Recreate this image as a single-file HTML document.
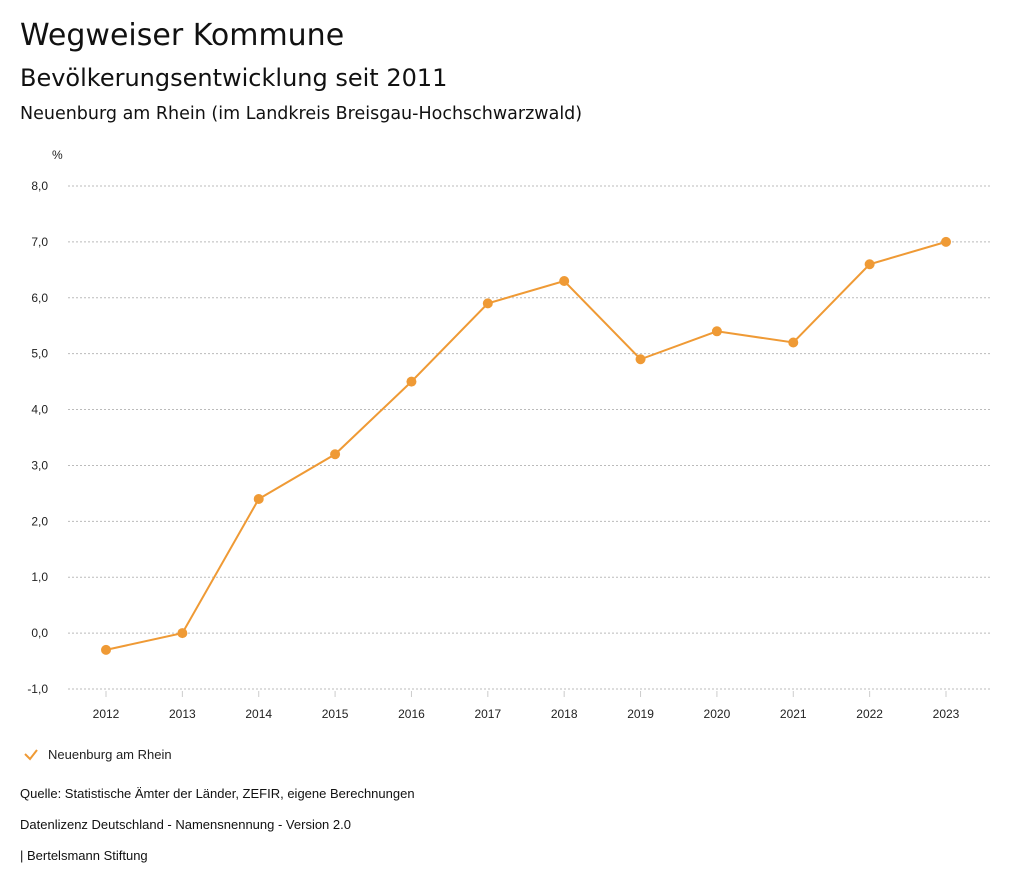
<!DOCTYPE html>
<html><head><meta charset="utf-8"><style>
body{margin:0;background:#fff;width:1024px;height:888px;overflow:hidden;font-family:"Liberation Sans",sans-serif;color:#111}
.t{position:absolute;white-space:nowrap}
.d{font-family:"DejaVu Sans",sans-serif}
</style></head><body>
<div class="t d" style="left:20px;top:18px;font-size:30px">Wegweiser Kommune</div>
<div class="t d" style="left:20px;top:64px;font-size:24px">Bevölkerungsentwicklung seit 2011</div>
<div class="t d" style="left:20px;top:104px;font-size:17.5px;font-weight:500">Neuenburg am Rhein (im Landkreis Breisgau-Hochschwarzwald)</div>
<svg id="chart" width="1024" height="888" style="position:absolute;left:0;top:0"></svg>
<div class="t" style="left:20px;top:786px;font-size:13px">Quelle: Statistische Ämter der Länder, ZEFIR, eigene Berechnungen</div>
<div class="t" style="left:20px;top:817px;font-size:13px">Datenlizenz Deutschland - Namensnennung - Version 2.0</div>
<div class="t" style="left:20px;top:848px;font-size:13px">| Bertelsmann Stiftung</div>
<script>
const years=["2012","2013","2014","2015","2016","2017","2018","2019","2020","2021","2022","2023"];
const values=[-0.3,0.0,2.4,3.2,4.5,5.9,6.3,4.9,5.4,5.2,6.6,7.0];
const yTicks=[-1,0,1,2,3,4,5,6,7,8];
const NS="http://www.w3.org/2000/svg";
const svg=document.getElementById('chart');
const x0=106,x1=946,yTop=186,yBot=689,vMin=-1,vMax=8;
const xs=i=>x0+(x1-x0)*i/(years.length-1);
const ys=v=>yBot-(v-vMin)/(vMax-vMin)*(yBot-yTop);
function mk(t,a){const e=document.createElementNS(NS,t);for(const k in a)e.setAttribute(k,a[k]);svg.appendChild(e);return e;}
const u=mk('text',{x:52,y:159,'font-size':12,fill:'#222'});u.textContent='%';


yTicks.forEach(v=>{
 const l=mk('line',{x1:68,x2:990,y1:ys(v),y2:ys(v),stroke:'#bbb','stroke-dasharray':'2,2','stroke-width':1});
 
 
 const t=mk('text',{x:48,y:ys(v)+4,'font-size':12,fill:'#222','text-anchor':'end'});
 t.textContent=v.toFixed(1).replace('.',',');
 
 
});
years.forEach((y,i)=>{
 const l=mk('line',{x1:xs(i),x2:xs(i),y1:yBot+2,y2:yBot+8,stroke:'#ccc'});
 
 
 const t=mk('text',{x:xs(i),y:718,'font-size':12,fill:'#222','text-anchor':'middle'});
 t.textContent=y;
 
 
});
const p=mk('polyline',{points:values.map((v,i)=>xs(i)+','+ys(v)).join(' '),fill:'none',stroke:'#ef9a35','stroke-width':2});


values.forEach((v,i)=>{
 const c=mk('circle',{cx:xs(i),cy:ys(v),r:5,fill:'#ef9a35'});
 
 
});
const chk=mk('polyline',{points:'25,754 30,759 37,750',fill:'none',stroke:'#ef9a35','stroke-width':2});


const lt=mk('text',{x:48,y:759,'font-size':13,fill:'#222'});lt.textContent='Neuenburg am Rhein';


</script>
</body></html>
